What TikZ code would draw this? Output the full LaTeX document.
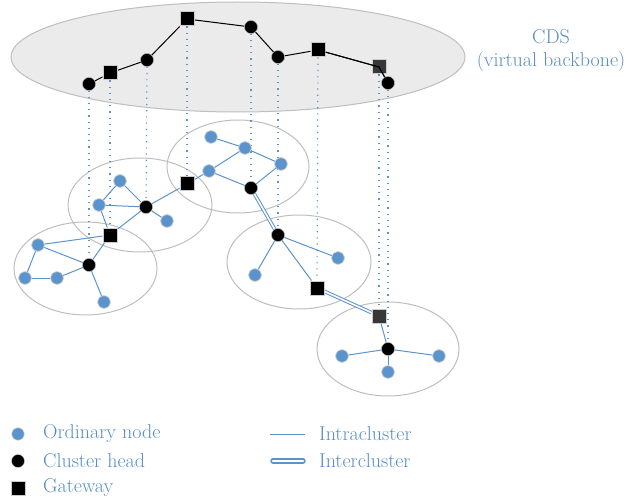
\documentclass[tikz,border=0pt]{standalone}
\definecolor{obl}{RGB}{91,148,204}
\definecolor{txtbl}{RGB}{88,140,198}
\definecolor{elgray}{RGB}{190,190,190}
\definecolor{elfill}{RGB}{235,235,235}
\definecolor{darkgw}{RGB}{55,55,55}
\tikzset{
  ordn/.style={circle,fill=obl,draw=gray!35,line width=0.6pt,minimum size=12.5pt,inner sep=0pt},
  headn/.style={circle,fill=black,draw=gray!40,line width=0.4pt,minimum size=13pt,inner sep=0pt},
  gwn/.style={rectangle,fill=black,draw=gray!40,line width=1pt,minimum size=14pt,inner sep=0pt},
  gwdark/.style={gwn,fill=darkgw},
  clus/.style={draw=elgray,line width=1pt},
  intra/.style={draw=obl,line width=1pt},
  inter/.style={draw=obl,double=white,line width=1pt,double distance=1.6pt},
  bb/.style={draw=black,line width=1pt},
  vdot/.style={draw=obl,line width=1.2pt,dash pattern=on 1.2pt off 5pt},
  lbl/.style={text=txtbl,font=\fontsize{20}{23}\selectfont,inner sep=0pt},
}
\begin{document}
\begin{tikzpicture}[x=1pt,y=-1pt]
\path[use as bounding box] (0,0) rectangle (643,500);
% ellipses
\draw[clus,fill=elfill] (238,57) ellipse [x radius=227pt,y radius=55pt];
\draw[clus] (85.5,268.5) ellipse [x radius=71.5pt,y radius=46.5pt];
\draw[clus] (140,205) ellipse [x radius=72pt,y radius=47pt];
\draw[clus] (238,166.5) ellipse [x radius=71pt,y radius=46.5pt];
\draw[clus] (299,262) ellipse [x radius=72pt,y radius=47pt];
\draw[clus] (388,349) ellipse [x radius=71pt,y radius=47pt];
% top backbone nodes
\node[headn] (t1) at (89,84) {};
\node[gwn] (t2) at (110,73) {};
\node[headn] (t3) at (147,60) {};
\node[gwn] (t4) at (187,19) {};
\node[headn] (t5) at (251,27) {};
\node[headn] (t6) at (278,57) {};
\node[gwn] (t7) at (318,50) {};
\node[gwdark] (t8) at (379,67) {};
\node[headn] (t9) at (388,83) {};
% cluster A
\node[ordn] (a1) at (38,245) {};
\node[ordn] (a2) at (25,278) {};
\node[ordn] (a3) at (57,278) {};
\node[headn] (ah) at (89,265) {};
\node[ordn] (a4) at (104,302) {};
\node[gwn] (g1) at (110,235) {};
% cluster B
\node[ordn] (b1) at (120,181) {};
\node[ordn] (b2) at (99,205) {};
\node[headn] (bh) at (146,207) {};
\node[ordn] (b3) at (167,221) {};
\node[gwn] (g2) at (187,184) {};
% cluster C
\node[ordn] (c1) at (211,137) {};
\node[ordn] (c2) at (245,148) {};
\node[ordn] (c3) at (281,164) {};
\node[ordn] (c4) at (209,171) {};
\node[headn] (ch) at (251,188) {};
% cluster D
\node[headn] (dh) at (278,235) {};
\node[ordn] (d1) at (338,258) {};
\node[ordn] (d2) at (255,275) {};
\node[gwn] (g3) at (317,288) {};
% cluster E
\node[gwdark] (g4) at (379,316) {};
\node[headn] (eh) at (388,349) {};
\node[ordn] (e1) at (342,356) {};
\node[ordn] (e2) at (439,356) {};
\node[ordn] (e3) at (388,372) {};
% dotted projections
\draw[vdot] (t1) -- (ah);
\draw[vdot] (t2) -- (g1);
\draw[vdot] (t3) -- (bh);
\draw[vdot] (t4) -- (g2);
\draw[vdot] (t5) -- (ch);
\draw[vdot] (t6) -- (dh);
\draw[vdot] (t7) -- (g3);
\draw[vdot] (t8) -- (g4);
\draw[vdot] (t9) -- (eh);
% backbone edges
\draw[bb] (t1) -- (t2) -- (t3) -- (t4) -- (t5) -- (t6) -- (t7) -- (t8.center) -- (t9);
% intra edges
\draw[intra] (a1) -- (ah);
\draw[intra] (a1) -- (a2);
\draw[intra] (a2) -- (a3);
\draw[intra] (a3) -- (ah);
\draw[intra] (ah) -- (a4);
\draw[intra] (ah) -- (g1);
\draw[intra] (a1) -- (g1);
\draw[intra] (b1) -- (b2);
\draw[intra] (b1) -- (bh);
\draw[intra] (b2) -- (bh);
\draw[intra] (b2) -- (g1);
\draw[intra] (bh) -- (b3);
\draw[intra] (bh) -- (g1);
\draw[intra] (bh) -- (g2);
\draw[intra] (c1) -- (c2);
\draw[intra] (c2) -- (c3);
\draw[intra] (c2) -- (c4);
\draw[intra] (c4) -- (g2);
\draw[intra] (c4) -- (ch);
\draw[intra] (c3) -- (ch);
\draw[intra] (dh) -- (d1);
\draw[intra] (dh) -- (d2);
\draw[intra] (dh) -- (g3);
\draw[intra] (g4) -- (eh);
\draw[intra] (eh) -- (e1);
\draw[intra] (eh) -- (e2);
\draw[intra] (eh) -- (e3);
% inter edges
\draw[inter] (ch) -- (dh);
\draw[inter] (g3) -- (g4);
% redraw nodes on top
\foreach \n in {t1,t3,t5,t6,t9,ah,bh,ch,dh,eh} {\node[headn] at (\n) {};}
\foreach \n in {t2,t4,t7,g1,g2,g3} {\node[gwn] at (\n) {};}
\foreach \n in {a1,a2,a3,a4,b1,b2,b3,c1,c2,c3,c4,d1,d2,e1,e2,e3} {\node[ordn] at (\n) {};}
\node[gwdark] at (g4) {};
\draw[bb] (t7) -- (t8.center) -- (t9);
% CDS label
\node[lbl,align=center] (cds) at (551,51) {CDS\\(virtual backbone)};
% legend
\node[ordn] (l1) at (18,434) {};
\node[lbl,anchor=west] (l1t) at (43,434) {Ordinary node};
\node[headn] (l2) at (18,461) {};
\node[lbl,anchor=west] (l2t) at (43,461) {Cluster head};
\node[gwn] (l3) at (18,488) {};
\node[lbl,anchor=west] (l3t) at (43,488) {Gateway};
\coordinate (li1) at (270,434);
\coordinate (li2) at (305,434);
\draw[intra] (li1) -- (li2);
\node[lbl,anchor=west] (l4t) at (319,434) {Intracluster};
\coordinate (le1) at (273,461);
\coordinate (le2) at (303,461);
\draw[inter,line cap=round,line width=1.6pt,double distance=2.2pt] (le1) -- (le2);
\node[lbl,anchor=west] (l5t) at (319,461) {Intercluster};
\end{tikzpicture}
\end{document}
